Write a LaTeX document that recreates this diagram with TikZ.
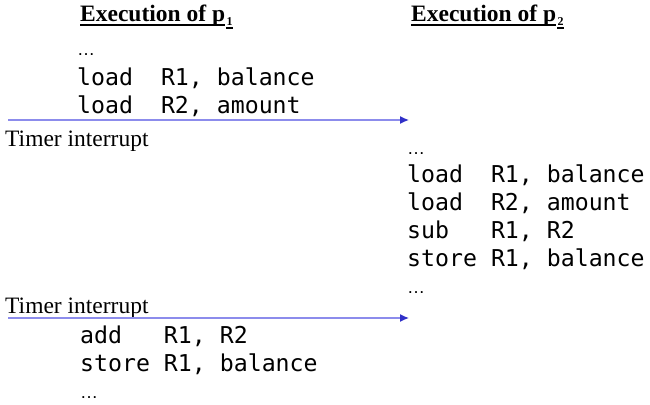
\documentclass[tikz,border=0pt]{standalone}
\usepackage{fontspec}
\usetikzlibrary{arrows.meta}
\setmainfont{Liberation Serif}
\newfontfamily\codefont{DejaVu Sans Mono}
\newfontfamily\dotsfont{Liberation Sans}
\definecolor{irqline}{HTML}{8C8CEC}
\definecolor{irqhead}{HTML}{3030C8}
\newcommand{\codedots}{{\dotsfont\fontsize{18}{18}\selectfont …}}

\begin{document}
\begin{tikzpicture}[x=1pt, y=-1pt,
    every node/.style={inner sep=0pt, anchor=base west},
    title/.style={font=\fontsize{23.5}{28}\selectfont\bfseries},
    sub/.style={font=\fontsize{12}{12}\selectfont\bfseries},
    code/.style={font=\fontsize{23.2}{28}\selectfont\codefont},
    note/.style={font=\fontsize{23.5}{28}\selectfont},
    uline/.style={line width=1.1pt},
    irq/.style={draw=irqline, line width=1.3pt, -{Latex[length=9pt, width=8pt, color=irqhead]}}]
    \useasboundingbox (0,0) rectangle (650,404);

    % Headings
    \node[title] (h1) at (80,22) {Execution of p};
    \node[sub] (h1s) at ([xshift=1pt, yshift=-4pt]h1.base east) {1};
    \node[title] (h2) at (411,22) {Execution of p};
    \node[sub] (h2s) at ([xshift=1pt, yshift=-4pt]h2.base east) {2};
    \draw[uline] ([yshift=-3pt]h1.base west) -- ([yshift=-3pt]h1.base east);
    \draw[uline] ([yshift=-2pt]h1s.base west) -- ([yshift=-2pt]h1s.base east);
    \draw[uline] ([yshift=-3pt]h2.base west) -- ([yshift=-3pt]h2.base east);
    \draw[uline] ([yshift=-2pt]h2s.base west) -- ([yshift=-2pt]h2s.base east);

    % p1, first part
    \node[code] (a0) at (77,56) {\codedots};
    \node[code] (a1) at (77,85) {load~~R1, balance};
    \node[code] (a2) at (77,113) {load~~R2, amount};

    % First interrupt
    \coordinate (s1) at (8,120);
    \coordinate (e1) at (409,120);
    \draw[irq] (s1) -- (e1);
    \node[note] (t1) at (5,146) {Timer interrupt};

    % p2
    \node[code] (b0) at (407,154) {\codedots};
    \node[code] (b1) at (407,182) {load~~R1, balance};
    \node[code] (b2) at (407,210) {load~~R2, amount};
    \node[code] (b3) at (407,238) {sub~~~R1, R2};
    \node[code] (b4) at (407,266) {store R1, balance};
    \node[code] (b5) at (407,293) {\codedots};

    % Second interrupt
    \node[note] (t2) at (5,313) {Timer interrupt};
    \coordinate (s2) at (8,318);
    \coordinate (e2) at (409,318);
    \draw[irq] (s2) -- (e2);

    % p1, rest
    \node[code] (c1) at (80,343) {add~~~R1, R2};
    \node[code] (c2) at (80,371) {store R1, balance};
    \node[code] (c3) at (80,398) {\codedots};
\end{tikzpicture}
\end{document}
